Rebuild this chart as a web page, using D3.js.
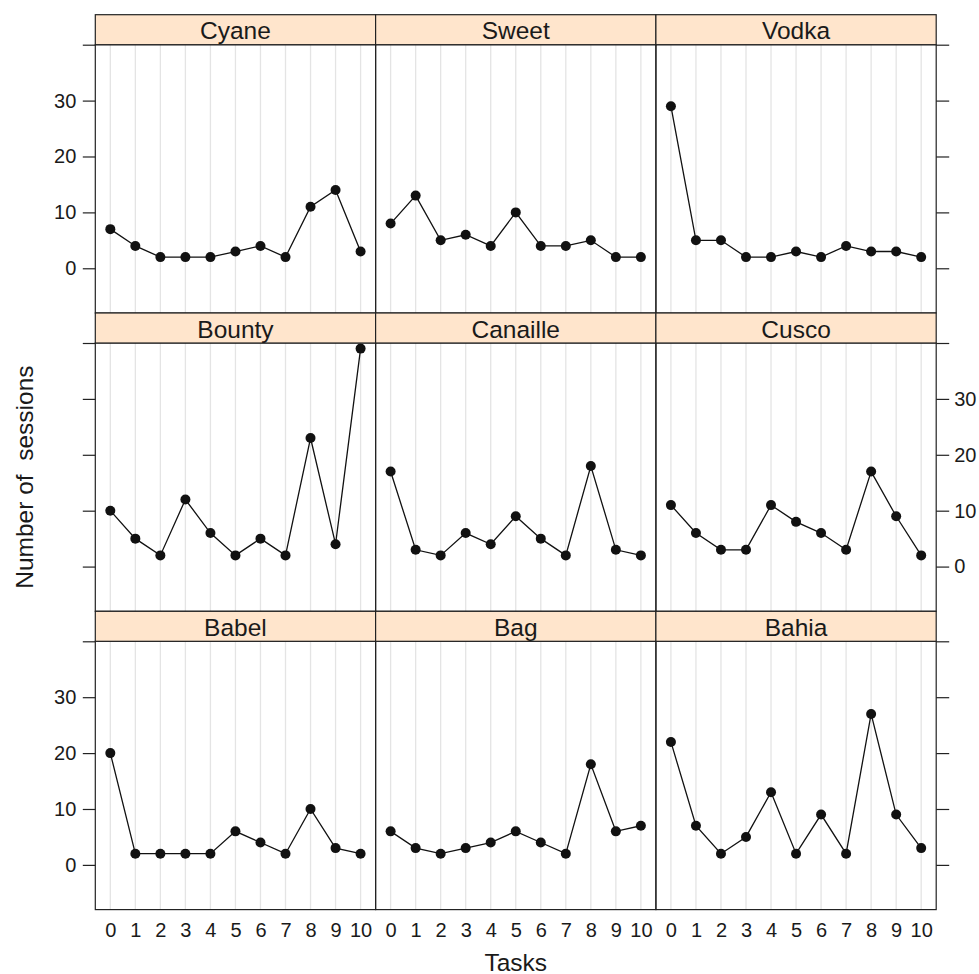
<!DOCTYPE html>
<html>
<head>
<meta charset="utf-8">
<script src="https://cdn.jsdelivr.net/npm/d3@7"></script>
<style>
  html, body { margin: 0; padding: 0; background: #fff; }
  text { font-family: "Liberation Sans", Arial, Helvetica, sans-serif; fill: #1a1a1a; }
</style>
</head>
<body>
<svg id="chart" width="979" height="974"></svg>
<script>
// ---- data ----
const tasks = [0, 1, 2, 3, 4, 5, 6, 7, 8, 9, 10];
const panelNames = ["Cyane", "Sweet", "Vodka", "Bounty", "Canaille", "Cusco", "Babel", "Bag", "Bahia"];
const cyane    = [7, 4, 2, 2, 2, 3, 4, 2, 11, 14, 3];
const sweet    = [8, 13, 5, 6, 4, 10, 4, 4, 5, 2, 2];
const vodka    = [29, 5, 5, 2, 2, 3, 2, 4, 3, 3, 2];
const bounty   = [10, 5, 2, 12, 6, 2, 5, 2, 23, 4, 39];
const canaille = [17, 3, 2, 6, 4, 9, 5, 2, 18, 3, 2];
const cusco    = [11, 6, 3, 3, 11, 8, 6, 3, 17, 9, 2];
const babel    = [20, 2, 2, 2, 2, 6, 4, 2, 10, 3, 2];
const bag      = [6, 3, 2, 3, 4, 6, 4, 2, 18, 6, 7];
const bahia    = [22, 7, 2, 5, 13, 2, 9, 2, 27, 9, 3];
const seriesValues = [cyane, sweet, vodka, bounty, canaille, cusco, babel, bag, bahia];
const yTicks = [0, 10, 20, 30, 40];
const yTickLabels = ["0", "10", "20", "30", ""];
const xTickLabels = ["0", "1", "2", "3", "4", "5", "6", "7", "8", "9", "10"];
const xLabel = "Tasks";
const yLabel = "Number of  sessions";

// ---- layout ----
const svg = d3.select("#chart");
const gLeft = 95.3, gTop = 14.7, panelW = 280.3, stripH = 30, panelH = 268.3;
const nCols = 3, nRows = 3;
const borderCol = "#222";

const x0 = d3.scaleLinear().domain([-0.6, 10.6]).range([0, panelW]);
const y0 = d3.scaleLinear().domain([-8, 40]).range([panelH, 0]);

seriesValues.forEach((vals, i) => {
  const col = i % nCols, row = Math.floor(i / nCols);
  const px = gLeft + col * panelW;
  const sy = gTop + row * (stripH + panelH);
  const py = sy + stripH;
  const g = svg.append("g").attr("transform", `translate(${px},${py})`);

  // grid
  g.selectAll("line.grid").data(tasks).join("line")
    .attr("class", "grid")
    .attr("x1", d => x0(d)).attr("x2", d => x0(d))
    .attr("y1", 0).attr("y2", panelH)
    .attr("stroke", "#e4e4e4").attr("stroke-width", 1.3);

  // line
  const line = d3.line().x((d, j) => x0(tasks[j])).y(d => y0(d));
  g.append("path").datum(vals).attr("d", line)
    .attr("fill", "none").attr("stroke", "#111").attr("stroke-width", 1.3);
  g.selectAll("circle").data(vals).join("circle")
    .attr("cx", (d, j) => x0(tasks[j])).attr("cy", d => y0(d))
    .attr("r", 5).attr("fill", "#111");

  // panel border
  g.append("rect").attr("x", 0).attr("y", 0).attr("width", panelW).attr("height", panelH)
    .attr("fill", "none").attr("stroke", borderCol).attr("stroke-width", 1.2);

  // strip
  const sg = svg.append("g").attr("transform", `translate(${px},${sy})`);
  sg.append("rect").attr("x", 0).attr("y", 0).attr("width", panelW).attr("height", stripH)
    .attr("fill", "#ffe5cc").attr("stroke", borderCol).attr("stroke-width", 1.2);
  sg.append("text").attr("x", panelW / 2).attr("y", 24.6)
    .attr("text-anchor", "middle").attr("font-size", 24.5).text(panelNames[i]);

  // y ticks (left on first column, right on last column)
  if (col === 0) {
    const labelLeft = (row % 2 === 0);
    const ax = d3.axisLeft(y0).tickValues(yTicks).tickSize(12.5).tickPadding(6.5)
      .tickFormat((d, k) => labelLeft ? yTickLabels[k] : "");
    const a = g.append("g").call(ax);
    a.select(".domain").remove();
    a.selectAll(".tick line").attr("stroke", borderCol).attr("stroke-width", 1.2);
    a.selectAll(".tick text").attr("font-size", 20).attr("fill", "#1a1a1a")
      .style("font-family", "'Liberation Sans', Arial, sans-serif");
  }
  if (col === nCols - 1) {
    const labelRight = (row % 2 === 1);
    const ax = d3.axisRight(y0).tickValues(yTicks).tickSize(13).tickPadding(5)
      .tickFormat((d, k) => labelRight ? yTickLabels[k] : "");
    const a = g.append("g").attr("transform", `translate(${panelW},0)`).call(ax);
    a.select(".domain").remove();
    a.selectAll(".tick line").attr("stroke", borderCol).attr("stroke-width", 1.2);
    a.selectAll(".tick text").attr("font-size", 20).attr("fill", "#1a1a1a")
      .style("font-family", "'Liberation Sans', Arial, sans-serif");
  }
  // x tick labels on bottom row, no tick marks
  if (row === nRows - 1) {
    const ax = d3.axisBottom(x0).tickValues(tasks).tickSize(0).tickPadding(0)
      .tickFormat((d, k) => xTickLabels[k]);
    const a = g.append("g").attr("transform", `translate(0,${panelH})`).call(ax);
    a.select(".domain").remove();
    a.selectAll(".tick line").remove();
    a.selectAll(".tick text").attr("font-size", 20).attr("fill", "#1a1a1a")
      .attr("dy", null).attr("y", 27)
      .style("font-family", "'Liberation Sans', Arial, sans-serif");
  }
});

// axis titles
const panelsBottom = gTop + nRows * (stripH + panelH);
svg.append("text").attr("x", gLeft + nCols * panelW / 2).attr("y", 970.5)
  .attr("text-anchor", "middle").attr("font-size", 24.5).text(xLabel);
svg.append("text")
  .attr("transform", `translate(32.5,${(gTop + stripH + panelsBottom) / 2}) rotate(-90)`)
  .attr("text-anchor", "middle").attr("font-size", 24.5)
  .style("white-space", "pre").text(yLabel);
</script>
</body>
</html>
